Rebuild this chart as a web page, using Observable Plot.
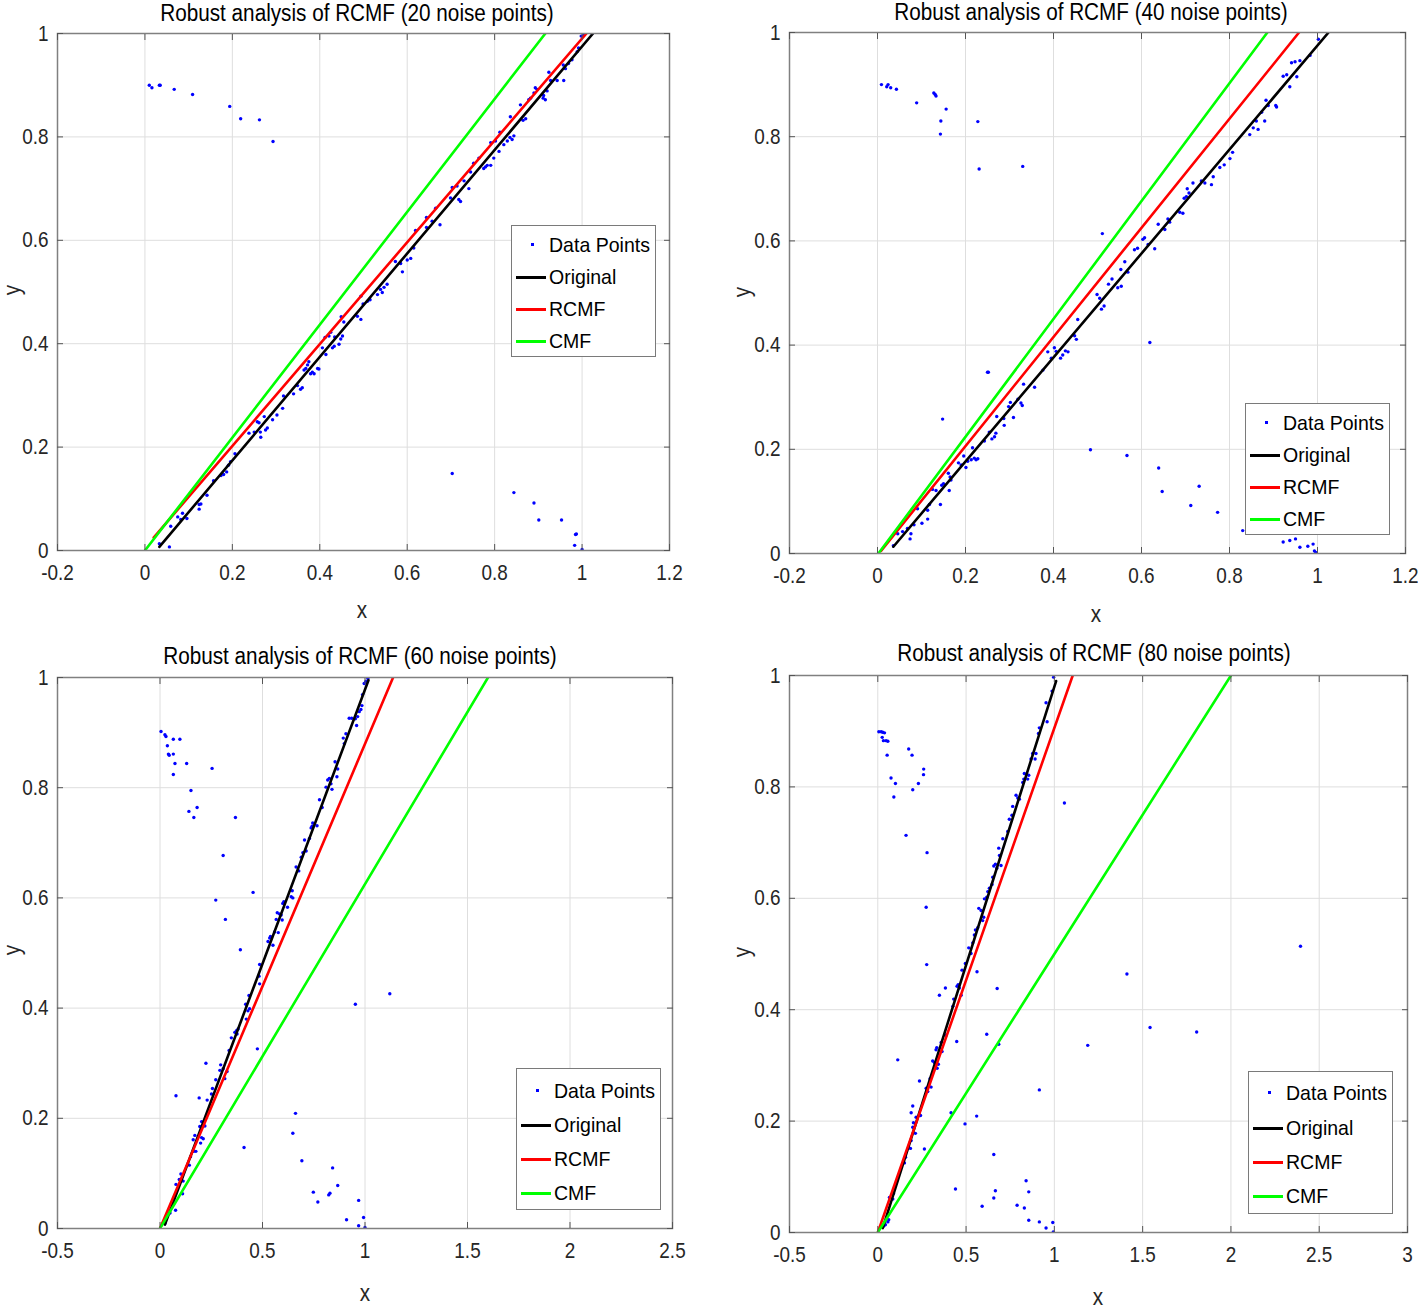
<!DOCTYPE html>
<html><head><meta charset="utf-8">
<script src="https://cdn.jsdelivr.net/npm/d3@7"></script>
<script src="https://cdn.jsdelivr.net/npm/@observablehq/plot@0.6"></script>
<style>
body{margin:0;background:#fff;}
#fig{position:relative;width:1418px;height:1308px;background:#fff;font-family:"Liberation Sans",Arial,sans-serif;color:#262626;overflow:hidden}
.panel{position:absolute}
.title{position:absolute;font-size:23px;white-space:nowrap;line-height:1;transform:translate(-50%,-50%) scaleX(0.9);color:#000}
.lab{position:absolute;font-size:23px;line-height:1;transform:translate(-50%,-50%) scaleX(0.9);color:#262626}
.ylab{transform:translate(-50%,-50%) rotate(-90deg) scaleX(0.9)}
.legend{position:absolute;background:#fff;border:1px solid #7a7a7a;box-sizing:border-box}
.entry{position:absolute;left:0;right:0;height:30px}
.entry .txt{position:absolute;left:37px;top:50%;transform:translateY(-50%) scaleX(0.93);transform-origin:left center;font-size:21px;white-space:nowrap;color:#000}
.entry .ln{position:absolute;left:4px;width:30px;height:2.5px;top:50%;margin-top:-1px}
.entry .pt{position:absolute;left:19px;width:3px;height:3px;top:50%;margin-top:-2px;background:#0000ff}
</style></head>
<body><div id="fig"></div>
<script>
// ---------- data ----------
const titles = [
  "Robust analysis of RCMF (20 noise points)",
  "Robust analysis of RCMF (40 noise points)",
  "Robust analysis of RCMF (60 noise points)",
  "Robust analysis of RCMF (80 noise points)"
];
const legendLabels = ["Data Points", "Original", "RCMF", "CMF"];
const yTicks = [0, 0.2, 0.4, 0.6, 0.8, 1];
const xTicks20 = [-0.2, 0, 0.2, 0.4, 0.6, 0.8, 1, 1.2];
const xTicks40 = [-0.2, 0, 0.2, 0.4, 0.6, 0.8, 1, 1.2];
const xTicks60 = [-0.5, 0, 0.5, 1, 1.5, 2, 2.5];
const xTicks80 = [-0.5, 0, 0.5, 1, 1.5, 2, 2.5, 3];

// fitted lines (end points)
const orig20 = [[0.033,0.007],[1.025,1.0]];
const rcmf20 = [[0.02,0.025],[1.01,1.0]];
const cmf20  = [[0.0,0.0],[0.916,1.0]];
const orig40 = [[0.036,0.013],[1.025,1.0]];
const rcmf40 = [[0.008,0.005],[0.958,1.0]];
const cmf40  = [[0.002,0.0],[0.886,1.0]];
const orig60 = [[0.024,0.007],[1.017,0.995]];
const rcmf60 = [[0.0,0.0],[1.137,1.0]];
const cmf60  = [[0.0,0.0],[1.60,1.0]];
const orig80 = [[0.028,0.008],[1.01,0.99]];
const rcmf80 = [[0.0,0.0],[1.104,1.0]];
const cmf80  = [[0.0,0.0],[2.0,1.0]];

// data points near the line
const line20 = [[0.033,0.013],[0.056,0.007],[0.059,0.047],[0.075,0.065],[0.082,0.060],[0.086,0.072],[0.096,0.062],[0.124,0.089],[0.128,0.090],[0.124,0.080],[0.142,0.107],[0.157,0.135],[0.174,0.145],[0.180,0.147],[0.187,0.152],[0.191,0.165],[0.196,0.172],[0.206,0.187],[0.238,0.227],[0.250,0.229],[0.257,0.249],[0.261,0.247],[0.264,0.229],[0.265,0.219],[0.273,0.259],[0.276,0.233],[0.280,0.237],[0.292,0.253],[0.302,0.262],[0.315,0.275],[0.317,0.299],[0.340,0.303],[0.349,0.319],[0.356,0.312],[0.360,0.315],[0.364,0.349],[0.368,0.352],[0.372,0.359],[0.375,0.365],[0.379,0.342],[0.383,0.345],[0.387,0.342],[0.395,0.352],[0.398,0.351],[0.406,0.392],[0.414,0.379],[0.412,0.412],[0.421,0.415],[0.425,0.422],[0.429,0.392],[0.433,0.395],[0.434,0.413],[0.444,0.399],[0.448,0.409],[0.452,0.415],[0.449,0.452],[0.455,0.442],[0.486,0.453],[0.494,0.447],[0.494,0.492],[0.499,0.477],[0.509,0.482],[0.515,0.485],[0.532,0.495],[0.539,0.505],[0.543,0.499],[0.547,0.509],[0.554,0.515],[0.573,0.559],[0.585,0.555],[0.589,0.539],[0.600,0.562],[0.608,0.565],[0.615,0.585],[0.619,0.619],[0.644,0.625],[0.644,0.644],[0.657,0.637],[0.665,0.662],[0.675,0.630],[0.699,0.682],[0.703,0.702],[0.714,0.705],[0.718,0.679],[0.722,0.675],[0.730,0.715],[0.741,0.700],[0.745,0.732],[0.752,0.749],[0.764,0.759],[0.775,0.739],[0.779,0.742],[0.783,0.745],[0.791,0.745],[0.798,0.759],[0.791,0.789],[0.802,0.792],[0.810,0.772],[0.812,0.809],[0.821,0.785],[0.829,0.792],[0.835,0.799],[0.840,0.795],[0.844,0.802],[0.836,0.839],[0.859,0.862],[0.865,0.832],[0.871,0.835],[0.878,0.872],[0.882,0.875],[0.890,0.885],[0.893,0.895],[0.897,0.892],[0.911,0.875],[0.916,0.872],[0.912,0.880],[0.920,0.889],[0.924,0.925],[0.928,0.909],[0.943,0.909],[0.958,0.909],[0.957,0.939],[0.962,0.932],[0.969,0.942],[0.977,0.949],[0.989,0.965],[0.992,0.972],[0.998,0.995],[1.004,0.997],[1.023,1.0]];
const noise20 = [[0.010,0.900],[0.016,0.895],[0.033,0.900],[0.035,0.900],[0.067,0.892],[0.109,0.882],[0.194,0.859],[0.219,0.835],[0.262,0.833],[0.293,0.791],[0.703,0.149],[0.844,0.112],[0.890,0.092],[0.901,0.059],[0.953,0.059],[0.985,0.031],[0.987,0.032],[0.983,0.010],[1.0,0.002]];

const line40 = [[0.036,0.015],[0.046,0.038],[0.057,0.042],[0.068,0.048],[0.074,0.028],[0.076,0.038],[0.083,0.055],[0.091,0.086],[0.101,0.058],[0.114,0.066],[0.118,0.094],[0.114,0.083],[0.125,0.123],[0.133,0.121],[0.143,0.094],[0.146,0.131],[0.150,0.134],[0.161,0.154],[0.165,0.147],[0.163,0.121],[0.167,0.141],[0.184,0.174],[0.190,0.170],[0.196,0.187],[0.201,0.165],[0.205,0.177],[0.213,0.180],[0.216,0.203],[0.220,0.183],[0.224,0.180],[0.228,0.182],[0.243,0.216],[0.254,0.233],[0.260,0.220],[0.266,0.224],[0.269,0.231],[0.271,0.263],[0.287,0.259],[0.288,0.246],[0.298,0.282],[0.302,0.290],[0.309,0.261],[0.319,0.296],[0.326,0.289],[0.329,0.284],[0.332,0.325],[0.357,0.319],[0.376,0.352],[0.387,0.387],[0.395,0.375],[0.402,0.395],[0.406,0.388],[0.416,0.375],[0.421,0.381],[0.427,0.389],[0.433,0.387],[0.448,0.418],[0.452,0.411],[0.455,0.449],[0.499,0.497],[0.505,0.490],[0.509,0.469],[0.515,0.475],[0.525,0.517],[0.533,0.527],[0.546,0.510],[0.553,0.545],[0.554,0.513],[0.562,0.560],[0.569,0.540],[0.584,0.583],[0.591,0.586],[0.603,0.603],[0.607,0.606],[0.615,0.593],[0.630,0.585],[0.638,0.632],[0.653,0.622],[0.660,0.642],[0.664,0.636],[0.687,0.655],[0.694,0.653],[0.697,0.682],[0.702,0.685],[0.704,0.700],[0.708,0.692],[0.717,0.711],[0.736,0.715],[0.744,0.711],[0.759,0.708],[0.763,0.723],[0.778,0.741],[0.788,0.746],[0.801,0.758],[0.807,0.770],[0.846,0.804],[0.854,0.817],[0.861,0.830],[0.865,0.814],[0.873,0.847],[0.880,0.830],[0.883,0.870],[0.888,0.860],[0.905,0.860],[0.907,0.857],[0.922,0.916],[0.930,0.919],[0.937,0.896],[0.941,0.942],[0.949,0.944],[0.953,0.915],[0.960,0.946],[0.983,0.956],[1.002,0.987]];
const noise40 = [[0.009,0.900],[0.021,0.896],[0.024,0.900],[0.030,0.894],[0.043,0.891],[0.089,0.865],[0.128,0.884],[0.131,0.881],[0.133,0.878],[0.156,0.853],[0.144,0.830],[0.143,0.805],[0.228,0.829],[0.231,0.738],[0.330,0.743],[0.511,0.614],[0.619,0.405],[0.250,0.348],[0.252,0.348],[0.148,0.258],[0.484,0.199],[0.567,0.188],[0.639,0.164],[0.647,0.119],[0.731,0.129],[0.712,0.092],[0.773,0.079],[0.830,0.044],[0.922,0.022],[0.937,0.025],[0.950,0.028],[0.960,0.012],[0.978,0.014],[0.990,0.018],[0.993,0.005],[0.996,0.002]];

const line60 = [[0.024,0.009],[0.049,0.028],[0.076,0.033],[0.078,0.080],[0.094,0.089],[0.102,0.099],[0.110,0.063],[0.113,0.086],[0.143,0.115],[0.149,0.130],[0.165,0.140],[0.162,0.161],[0.170,0.169],[0.175,0.140],[0.198,0.155],[0.203,0.165],[0.211,0.163],[0.194,0.185],[0.203,0.194],[0.219,0.186],[0.230,0.233],[0.251,0.244],[0.256,0.254],[0.272,0.270],[0.292,0.287],[0.296,0.297],[0.308,0.290],[0.316,0.272],[0.327,0.285],[0.337,0.323],[0.348,0.346],[0.365,0.356],[0.373,0.359],[0.381,0.362],[0.376,0.353],[0.421,0.380],[0.418,0.407],[0.434,0.423],[0.429,0.395],[0.437,0.399],[0.486,0.479],[0.483,0.458],[0.486,0.444],[0.527,0.521],[0.535,0.527],[0.539,0.530],[0.551,0.514],[0.559,0.538],[0.567,0.561],[0.572,0.573],[0.577,0.537],[0.583,0.571],[0.591,0.569],[0.596,0.560],[0.599,0.590],[0.604,0.593],[0.622,0.583],[0.640,0.602],[0.645,0.613],[0.648,0.600],[0.664,0.656],[0.677,0.649],[0.689,0.674],[0.697,0.682],[0.705,0.705],[0.713,0.685],[0.729,0.708],[0.737,0.727],[0.742,0.730],[0.745,0.736],[0.766,0.731],[0.778,0.778],[0.791,0.764],[0.810,0.801],[0.818,0.814],[0.826,0.817],[0.834,0.807],[0.839,0.797],[0.854,0.847],[0.863,0.820],[0.867,0.834],[0.894,0.890],[0.899,0.880],[0.907,0.898],[0.923,0.926],[0.935,0.926],[0.953,0.925],[0.959,0.913],[0.964,0.929],[0.972,0.938],[0.980,0.942],[0.985,0.949],[0.988,0.969],[0.996,0.989],[1.004,0.993],[1.014,0.998]];
const noise60 = [[0.005,0.902],[0.024,0.896],[0.029,0.893],[0.036,0.876],[0.041,0.861],[0.045,0.859],[0.065,0.888],[0.065,0.861],[0.097,0.888],[0.073,0.844],[0.065,0.824],[0.130,0.844],[0.254,0.835],[0.151,0.795],[0.141,0.757],[0.181,0.764],[0.165,0.746],[0.368,0.746],[0.308,0.677],[0.454,0.610],[0.272,0.596],[0.319,0.561],[0.392,0.506],[0.475,0.326],[0.078,0.241],[0.191,0.237],[0.224,0.300],[0.410,0.147],[0.661,0.209],[0.648,0.173],[0.692,0.123],[0.842,0.110],[0.867,0.078],[0.748,0.066],[0.770,0.048],[0.823,0.061],[0.829,0.064],[0.969,0.051],[0.910,0.016],[0.993,0.020],[0.969,0.005],[1.0,0.002],[0.953,0.407],[1.121,0.426]];

const line80 = [[0.032,0.011],[0.043,0.014],[0.057,0.019],[0.062,0.023],[0.066,0.063],[0.085,0.060],[0.089,0.070],[0.151,0.125],[0.157,0.135],[0.185,0.151],[0.189,0.165],[0.198,0.189],[0.202,0.197],[0.213,0.178],[0.217,0.207],[0.242,0.210],[0.274,0.259],[0.283,0.253],[0.289,0.263],[0.296,0.276],[0.302,0.261],[0.311,0.308],[0.321,0.305],[0.336,0.295],[0.343,0.302],[0.330,0.328],[0.334,0.332],[0.359,0.341],[0.364,0.325],[0.387,0.354],[0.425,0.406],[0.430,0.419],[0.449,0.442],[0.455,0.445],[0.462,0.439],[0.472,0.426],[0.477,0.471],[0.496,0.483],[0.515,0.511],[0.528,0.501],[0.538,0.520],[0.547,0.534],[0.553,0.543],[0.566,0.547],[0.572,0.582],[0.585,0.578],[0.594,0.560],[0.600,0.566],[0.604,0.599],[0.617,0.602],[0.623,0.612],[0.632,0.618],[0.647,0.625],[0.651,0.638],[0.657,0.658],[0.666,0.661],[0.674,0.654],[0.685,0.690],[0.689,0.677],[0.698,0.659],[0.708,0.707],[0.736,0.720],[0.745,0.742],[0.760,0.749],[0.764,0.765],[0.783,0.785],[0.793,0.780],[0.802,0.778],[0.821,0.808],[0.827,0.814],[0.830,0.824],[0.849,0.814],[0.855,0.821],[0.868,0.850],[0.877,0.860],[0.891,0.850],[0.896,0.860],[0.910,0.896],[0.915,0.906],[0.959,0.917],[0.953,0.951],[0.987,0.972],[0.996,0.997]];
const noise80 = [[0.006,0.899],[0.019,0.899],[0.028,0.898],[0.038,0.897],[0.025,0.889],[0.032,0.883],[0.047,0.883],[0.057,0.882],[0.053,0.857],[0.075,0.816],[0.100,0.806],[0.091,0.782],[0.175,0.868],[0.194,0.857],[0.260,0.832],[0.259,0.822],[0.230,0.806],[0.198,0.795],[0.160,0.713],[0.279,0.682],[0.274,0.584],[0.277,0.481],[0.349,0.426],[0.383,0.439],[0.113,0.310],[0.236,0.272],[0.189,0.215],[0.198,0.227],[0.264,0.150],[0.415,0.215],[0.447,0.343],[0.494,0.195],[0.560,0.209],[0.617,0.356],[0.676,0.438],[0.685,0.338],[0.562,0.468],[0.440,0.078],[0.657,0.140],[0.666,0.075],[0.657,0.062],[0.591,0.047],[0.840,0.093],[0.855,0.073],[0.789,0.049],[0.830,0.044],[0.855,0.022],[0.915,0.019],[0.953,0.008],[0.991,0.018],[0.994,0.001],[0.915,0.256],[1.057,0.771],[1.189,0.336],[1.411,0.464],[2.394,0.514],[1.542,0.368],[1.806,0.360]];

// ---------- layout ----------
const panels = [
  {left:0,   top:0,   w:709, h:640, ml:57, mr:40, mt:33, mb:90, xd:[-0.2,1.2], xt:xTicks20, pts:line20.concat(noise20), lines:[orig20,rcmf20,cmf20],
   title:[357,13], xl:[362,610], yl:[12,290], leg:[511,225,145,132,[19,51,83,115]]},
  {left:709, top:0,   w:709, h:640, ml:80, mr:13, mt:32, mb:87, xd:[-0.2,1.2], xt:xTicks40, pts:line40.concat(noise40), lines:[orig40,rcmf40,cmf40],
   title:[1091,12], xl:[1096,614], yl:[742,292], leg:[1245,403,145,132,[19,51,83,115]]},
  {left:0,   top:640, w:709, h:668, ml:57, mr:37, mt:37, mb:80, xd:[-0.5,2.5], xt:xTicks60, pts:line60.concat(noise60), lines:[orig60,rcmf60,cmf60],
   title:[360,656], xl:[365,1293], yl:[12,950], leg:[516,1068,145,142,[22,56,90,124]]},
  {left:709, top:640, w:709, h:668, ml:80, mr:11, mt:35, mb:76, xd:[-0.5,3], xt:xTicks80, pts:line80.concat(noise80), lines:[orig80,rcmf80,cmf80],
   title:[1094,653], xl:[1098,1297], yl:[742,952], leg:[1248,1071,145,143,[21,56,90,124]]}
];
const lineColors = ["#000000", "#ff0000", "#00ff00"];
const fmt = d => String(d);
const fig = document.getElementById("fig");

panels.forEach((p, i) => {
  const chart = Plot.plot({
    width: p.w, height: p.h,
    marginLeft: p.ml, marginRight: p.mr, marginTop: p.mt, marginBottom: p.mb,
    x: {domain: p.xd, label: null},
    y: {domain: [0, 1], label: null},
    style: {fontSize: "22px", fontFamily: "'Liberation Sans', Arial, sans-serif", color: "#262626", background: "transparent", overflow: "visible"},
    marks: [
      Plot.gridX(p.xt, {stroke: "#dedede", strokeOpacity: 1, strokeWidth: 1}),
      Plot.gridY(yTicks, {stroke: "#dedede", strokeOpacity: 1, strokeWidth: 1}),
      Plot.dot(p.pts, {x: d => d[0], y: d => d[1], r: 1.7, fill: "#0000ff", clip: true}),
      ...p.lines.map((ln, k) => Plot.line(ln, {x: d => d[0], y: d => d[1], stroke: lineColors[k], strokeWidth: 2.6, clip: true})),
      Plot.frame({stroke: "#808080", strokeWidth: 1.5}),
      Plot.axisX(p.xt, {anchor: "bottom", tickSize: 0, tickPadding: 14, tickFormat: fmt, label: null}),
      Plot.axisX(p.xt, {anchor: "bottom", tickSize: -6, tickFormat: () => "", label: null, stroke: "#555"}),
      Plot.axisX(p.xt, {anchor: "top", tickSize: -6, tickFormat: () => "", label: null, stroke: "#555"}),
      Plot.axisY(yTicks, {anchor: "left", tickSize: 0, tickPadding: 9, tickFormat: fmt, label: null}),
      Plot.axisY(yTicks, {anchor: "left", tickSize: -6, tickFormat: () => "", label: null, stroke: "#555"}),
      Plot.axisY(yTicks, {anchor: "right", tickSize: -6, tickFormat: () => "", label: null, stroke: "#555"})
    ]
  });
  // condense tick label glyphs horizontally (narrow look of the reference)
  d3.select(chart).selectAll('g[aria-label$="tick label"] text').each(function() {
    const tr = this.getAttribute("transform") || "";
    this.setAttribute("transform", tr + " scale(0.86,1)");
  });
  const wrap = document.createElement("div");
  wrap.className = "panel";
  wrap.style.left = p.left + "px";
  wrap.style.top = p.top + "px";
  wrap.appendChild(chart);
  fig.appendChild(wrap);

  const t = document.createElement("div");
  t.className = "title"; t.textContent = titles[i];
  t.style.left = p.title[0] + "px"; t.style.top = p.title[1] + "px";
  fig.appendChild(t);

  const xl = document.createElement("div");
  xl.className = "lab"; xl.textContent = "x";
  xl.style.left = p.xl[0] + "px"; xl.style.top = p.xl[1] + "px";
  fig.appendChild(xl);

  const yl = document.createElement("div");
  yl.className = "lab ylab"; yl.textContent = "y";
  yl.style.left = p.yl[0] + "px"; yl.style.top = p.yl[1] + "px";
  fig.appendChild(yl);

  const [lx, ly, lw, lh, rows] = p.leg;
  const lg = document.createElement("div");
  lg.className = "legend";
  Object.assign(lg.style, {left: lx + "px", top: ly + "px", width: lw + "px", height: lh + "px"});
  legendLabels.forEach((lab, k) => {
    const e = document.createElement("div");
    e.className = "entry";
    e.style.top = (rows[k] - 15) + "px";
    const sym = document.createElement("div");
    if (k === 0) { sym.className = "pt"; }
    else { sym.className = "ln"; sym.style.background = lineColors[k - 1]; }
    e.appendChild(sym);
    const tx = document.createElement("div");
    tx.className = "txt"; tx.textContent = lab;
    e.appendChild(tx);
    lg.appendChild(e);
  });
  fig.appendChild(lg);
});
</script>
</body></html>
